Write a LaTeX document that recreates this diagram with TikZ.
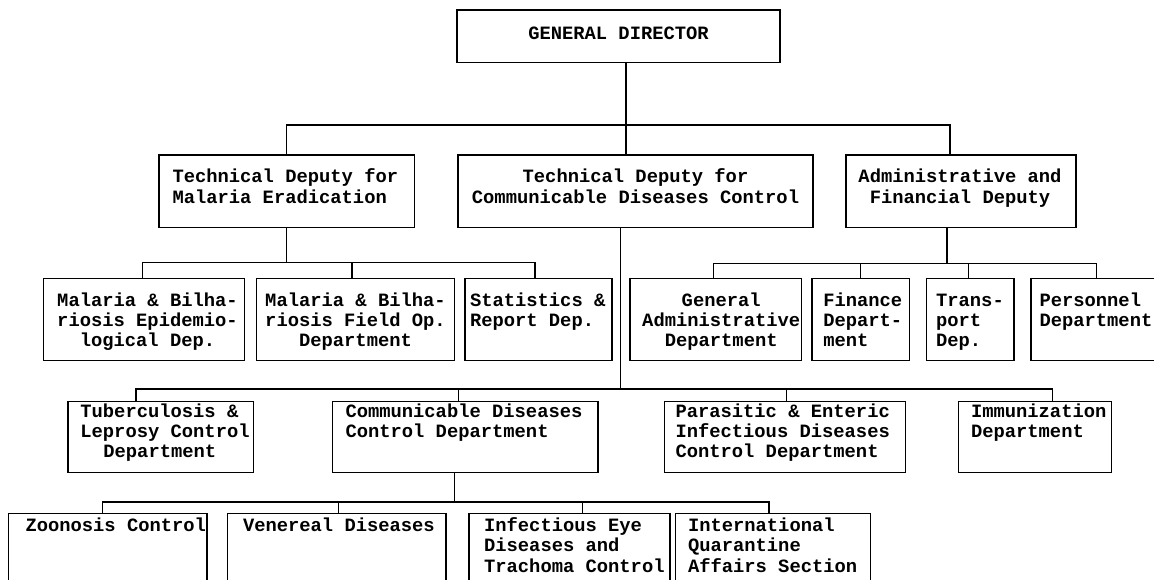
\documentclass[tikz,border=0pt]{standalone}
\usepackage{fontspec}
\setmonofont{Liberation Mono}
\newcommand\mkbox[5]{\node[box, minimum width={#4-#2}, minimum height={#5-#3}] (#1) at ({(#2+#4)/2},{(#3+#5)/2}) {};}
\newcommand\txtL[1]{\begin{tabular}[t]{@{}l@{}}#1\end{tabular}}
\newcommand\txtC[1]{\begin{tabular}[t]{@{}c@{}}#1\end{tabular}}
\begin{document}
\begin{tikzpicture}[x=1pt,y=-1pt,
  box/.style={draw, line width=1.4pt, rectangle, inner sep=0pt, outer sep=0pt},
  conn/.style={line width=1.4pt},
  txt/.style={font=\ttfamily\bfseries\fontsize{18.8}{20.3}\selectfont, inner sep=0pt, outer sep=0pt},
  tl/.style={txt, anchor=base west},
  tc/.style={txt, anchor=base}]
\useasboundingbox (0,0) rectangle (1154,580);
\clip (0,0) rectangle (1154,580);
% boxes
\mkbox{gd}{457}{10}{780}{62.7}
\mkbox{dep1}{159}{155}{414.5}{227.7}
\mkbox{dep2}{458}{155}{813}{227.7}
\mkbox{dep3}{846}{155}{1076}{227.7}
\mkbox{ba}{43.5}{278.3}{244.5}{360.7}
\mkbox{bb}{256.4}{278.3}{454.7}{360.7}
\mkbox{bc}{465}{278.3}{612}{360.7}
\mkbox{bd}{630}{278.3}{801.7}{360.7}
\mkbox{be}{811.9}{278.3}{909.2}{360.7}
\mkbox{bf}{926.7}{278.3}{1013.8}{360.7}
\mkbox{bg}{1031}{278.3}{1175}{360.7}
\mkbox{bh}{68.1}{401.7}{253.3}{472.7}
\mkbox{bi}{332.2}{401.7}{597.9}{472.7}
\mkbox{bj}{664.2}{401.7}{905.5}{472.7}
\mkbox{bk}{958.5}{401.7}{1111.5}{472.7}
\mkbox{bl}{8.4}{513.3}{207}{600}
\mkbox{bm}{227.5}{513.3}{445.8}{600}
\mkbox{bn}{468.8}{513.3}{669.8}{600}
\mkbox{bo}{675.5}{513.3}{870.6}{600}
% texts
\node[tc] (tgd) at (618.5,40) {GENERAL DIRECTOR};
\node[tl] (tdep1) at (172.5,183) {\txtL{Technical Deputy for\\Malaria Eradication}};
\node[tc] (tdep2) at (635.5,183) {\txtC{Technical Deputy for\\Communicable Diseases Control}};
\node[tc] (tdep3) at (960,183) {\txtC{Administrative and\\Financial Deputy}};
\node[tc] (tba) at (147.5,306) {\txtC{Malaria \& Bilha-\\riosis Epidemio-\\logical Dep.}};
\node[tc] (tbb) at (355.5,306) {\txtC{Malaria \& Bilha-\\riosis Field Op.\\Department}};
\node[tl] (tbc) at (470,306) {\txtL{Statistics \&\\Report Dep.}};
\node[tc] (tbd) at (721.2,306) {\txtC{General\\Administrative\\Department}};
\node[tl] (tbe) at (823.3,306) {\txtL{Finance\\Depart-\\ment}};
\node[tl] (tbf) at (936.1,306) {\txtL{Trans-\\port\\Dep.}};
\node[tl] (tbg) at (1039.5,306) {\txtL{Personnel\\Department}};
\node[tl] (tbh) at (80.4,417.3) {\txtL{Tuberculosis \&\\Leprosy Control\\\hspace*{23pt}Department}};
\node[tl] (tbi) at (345.5,417.3) {\txtL{Communicable Diseases\\Control Department}};
\node[tl] (tbj) at (675.5,417.3) {\txtL{Parasitic \& Enteric\\Infectious Diseases\\Control Department}};
\node[tl] (tbk) at (971,417.3) {\txtL{Immunization\\Department}};
\node[tl] (tbl) at (25.5,531.5) {Zoonosis Control};
\node[tl] (tbm) at (243,531.5) {Venereal Diseases};
\node[tl] (tbn) at (484.1,531.5) {\txtL{Infectious Eye\\Diseases and\\Trachoma Control}};
\node[tl] (tbo) at (688,531.5) {\txtL{International\\Quarantine\\Affairs Section}};
% junctions
\coordinate (j0) at (626,125);
\coordinate (j0l) at (286.3,125);
\coordinate (j0r) at (950,125);
\coordinate (j1) at (286.3,262.7);
\coordinate (j1a) at (142.4,262.7);
\coordinate (j1b) at (352,262.7);
\coordinate (j1c) at (535,262.7);
\coordinate (j3) at (947,263.3);
\coordinate (j3a) at (713.4,263.3);
\coordinate (j3b) at (860.4,263.3);
\coordinate (j3c) at (968.3,263.3);
\coordinate (j3d) at (1096.5,263.3);
\coordinate (j2) at (620.6,389);
\coordinate (j2a) at (136,389);
\coordinate (j2b) at (458.5,389);
\coordinate (j2c) at (786.5,389);
\coordinate (j2d) at (1052.4,389);
\coordinate (j4) at (454.6,502);
\coordinate (j4a) at (102.6,502);
\coordinate (j4b) at (338.7,502);
\coordinate (j4c) at (582.6,502);
\coordinate (j4d) at (769.1,502);
% connectors
\draw[conn] (gd.south -| j0) -- (j0 |- dep2.north);
\draw[conn] (j0l |- dep1.north) -- (j0l) -- (j0r) -- (j0r |- dep3.north);
\draw[conn] (dep1.south -| j1) -- (j1);
\draw[conn] (j1a |- ba.north) -- (j1a) -- (j1c) -- (j1c |- bc.north);
\draw[conn] (j1b) -- (j1b |- bb.north);
\draw[conn] (dep3.south -| j3) -- (j3);
\draw[conn] (j3a |- bd.north) -- (j3a) -- (j3d) -- (j3d |- bg.north);
\draw[conn] (j3b) -- (j3b |- be.north);
\draw[conn] (j3c) -- (j3c |- bf.north);
\draw[conn] (dep2.south -| j2) -- (j2);
\draw[conn] (j2a |- bh.north) -- (j2a) -- (j2d) -- (j2d |- bk.north);
\draw[conn] (j2b) -- (j2b |- bi.north);
\draw[conn] (j2c) -- (j2c |- bj.north);
\draw[conn] (bi.south -| j4) -- (j4);
\draw[conn] (j4a |- bl.north) -- (j4a) -- (j4d) -- (j4d |- bo.north);
\draw[conn] (j4b) -- (j4b |- bm.north);
\draw[conn] (j4c) -- (j4c |- bn.north);
\end{tikzpicture}
\end{document}
